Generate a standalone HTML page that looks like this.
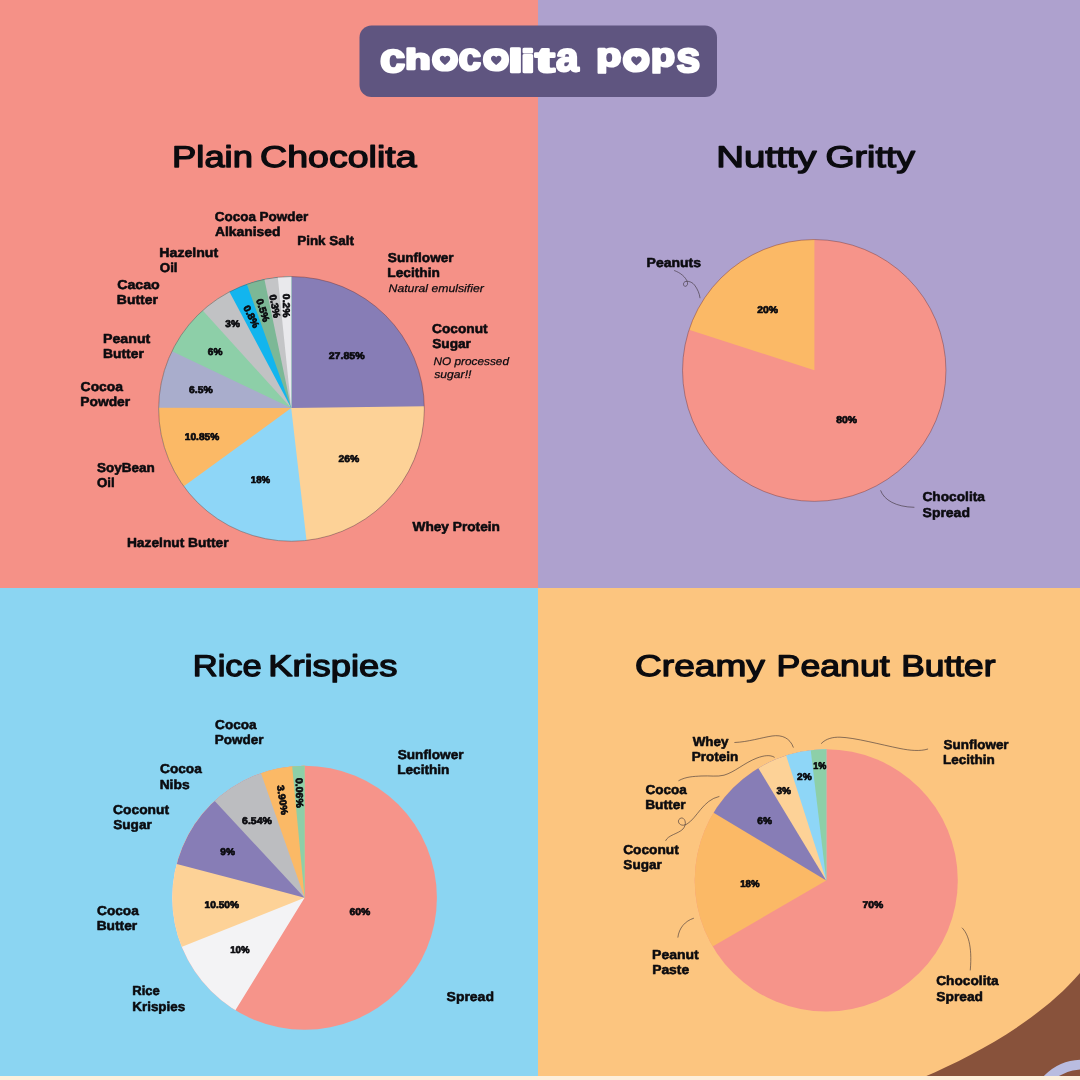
<!DOCTYPE html>
<html lang="en"><head><meta charset="utf-8"><title>Chocolita Pops</title>
<style>
html,body{margin:0;padding:0;background:#F59187;}
body{width:1080px;height:1080px;overflow:hidden;}
svg{display:block;font-family:"Liberation Sans", sans-serif;text-rendering:geometricPrecision;}
text{white-space:pre;}
</style></head><body>
<svg width="1080" height="1080" viewBox="0 0 1080 1080">
<rect x="0" y="0" width="538" height="588" fill="#F59187"/>
<rect x="538" y="0" width="542" height="588" fill="#AEA1CE"/>
<rect x="0" y="588" width="538" height="492" fill="#8BD5F2"/>
<rect x="538" y="588" width="542" height="492" fill="#FCC57F"/>
<path d="M924 1077 C 975 1055, 1040 1020, 1080 973 L1080 1080 L924 1080Z" fill="#88523B"/>
<circle cx="1082.2" cy="1112.9" r="48.3" fill="none" stroke="#B9BCE0" stroke-width="9.7"/>
<rect x="0" y="1076" width="1080" height="4" fill="#FDF0DC"/>
<rect x="359.5" y="25.5" width="357.5" height="71.5" rx="12" fill="#5F5580"/>
<text font-weight="bold" fill="#fff" stroke="#fff" stroke-width="2.4" stroke-linejoin="round"><tspan x="380.13" y="71.60" font-size="41.07" textLength="25.20" lengthAdjust="spacingAndGlyphs">c</tspan><tspan x="405.30" y="69.40" font-size="28.43" textLength="25.38" lengthAdjust="spacingAndGlyphs">h</tspan><tspan x="431.47" y="70.22" font-size="38.51" textLength="27.06" lengthAdjust="spacingAndGlyphs">o</tspan><tspan x="458.51" y="70.22" font-size="38.51" textLength="22.57" lengthAdjust="spacingAndGlyphs">c</tspan><tspan x="482.48" y="70.42" font-size="38.88" textLength="26.95" lengthAdjust="spacingAndGlyphs">o</tspan><tspan x="508.39" y="72.30" font-size="32.43" textLength="14.38" lengthAdjust="spacingAndGlyphs">l</tspan><tspan x="521.14" y="71.80" font-size="31.74" textLength="13.77" lengthAdjust="spacingAndGlyphs">i</tspan><tspan x="535.29" y="71.69" font-size="35.09" textLength="19.42" lengthAdjust="spacingAndGlyphs">t</tspan><tspan x="556.11" y="71.40" font-size="40.70" textLength="22.63" lengthAdjust="spacingAndGlyphs">a</tspan><tspan font-size="20"> </tspan><tspan x="596.29" y="66.13" font-size="32.13" textLength="25.09" lengthAdjust="spacingAndGlyphs">p</tspan><tspan x="622.21" y="71.40" font-size="40.70" textLength="27.98" lengthAdjust="spacingAndGlyphs">o</tspan><tspan x="651.01" y="66.13" font-size="32.13" textLength="24.00" lengthAdjust="spacingAndGlyphs">p</tspan><tspan x="676.18" y="72.18" font-size="43.40" textLength="23.99" lengthAdjust="spacingAndGlyphs">s</tspan></text>
<ellipse cx="445" cy="59.8" rx="6.5" ry="7.5" fill="#fff"/>
<path d="M0,4.2 C-1.5,2.8 -4.65,0.6 -4.65,-1.7 C-4.65,-3.4 -3.4,-4.1 -2.3,-4.1 C-1.2,-4.1 -0.4,-3.4 0,-2.6 C0.4,-3.4 1.2,-4.1 2.3,-4.1 C3.4,-4.1 4.65,-3.4 4.65,-1.7 C4.65,0.6 1.5,2.8 0,4.2Z" transform="translate(445 60.4) scale(1.12)" fill="#5F5580"/>
<ellipse cx="496.2" cy="59.8" rx="6.5" ry="7.5" fill="#fff"/>
<path d="M0,4.2 C-1.5,2.8 -4.65,0.6 -4.65,-1.7 C-4.65,-3.4 -3.4,-4.1 -2.3,-4.1 C-1.2,-4.1 -0.4,-3.4 0,-2.6 C0.4,-3.4 1.2,-4.1 2.3,-4.1 C3.4,-4.1 4.65,-3.4 4.65,-1.7 C4.65,0.6 1.5,2.8 0,4.2Z" transform="translate(496.2 60.4) scale(1.12)" fill="#5F5580"/>
<ellipse cx="636.4" cy="60.2" rx="6.5" ry="7.5" fill="#fff"/>
<path d="M0,4.2 C-1.5,2.8 -4.65,0.6 -4.65,-1.7 C-4.65,-3.4 -3.4,-4.1 -2.3,-4.1 C-1.2,-4.1 -0.4,-3.4 0,-2.6 C0.4,-3.4 1.2,-4.1 2.3,-4.1 C3.4,-4.1 4.65,-3.4 4.65,-1.7 C4.65,0.6 1.5,2.8 0,4.2Z" transform="translate(636.4 60.800000000000004) scale(1.12)" fill="#5F5580"/>
<clipPath id="pc1"><ellipse cx="291.5" cy="408.9" rx="132.85" ry="132.35"/></clipPath>
<g clip-path="url(#pc1)">
<circle cx="291.2" cy="408.0" r="144.85" fill="#877DB6"/>
<path d="M291.20 408.00L436.04 406.23A144.85 144.85 0 1 1 291.20 263.15Z" fill="#FDD297"/>
<path d="M291.20 408.00L307.85 551.89A144.85 144.85 0 1 1 291.20 263.15Z" fill="#8ED6F7"/>
<path d="M291.20 408.00L174.16 493.35A144.85 144.85 0 0 1 291.20 263.15Z" fill="#FBB966"/>
<path d="M291.20 408.00L146.35 407.75A144.85 144.85 0 0 1 291.20 263.15Z" fill="#A9ADCC"/>
<path d="M291.20 408.00L160.46 345.64A144.85 144.85 0 0 1 291.20 263.15Z" fill="#8DCFA8"/>
<path d="M291.20 408.00L193.90 300.69A144.85 144.85 0 0 1 291.20 263.15Z" fill="#C1C2C4"/>
<path d="M291.20 408.00L223.20 280.11A144.85 144.85 0 0 1 291.20 263.15Z" fill="#12B5EE"/>
<path d="M291.20 408.00L242.37 271.63A144.85 144.85 0 0 1 291.20 263.15Z" fill="#7CB896"/>
<path d="M291.20 408.00L261.70 266.19A144.85 144.85 0 0 1 291.20 263.15Z" fill="#C4C5C7"/>
<path d="M291.20 408.00L276.44 263.90A144.85 144.85 0 0 1 291.20 263.15Z" fill="#E9E9EC"/>
</g>
<ellipse cx="291.5" cy="408.9" rx="132.85" ry="132.35" fill="none" stroke="#6a3232" stroke-width="0.5" stroke-opacity="0.85"/>
<clipPath id="pc2"><ellipse cx="814.25" cy="370.45" rx="131.7" ry="130.9"/></clipPath>
<g clip-path="url(#pc2)">
<circle cx="814.4" cy="370.2" r="143.7" fill="#F6948A"/>
<path d="M814.40 370.20L677.66 326.03A143.7 143.7 0 0 1 814.40 226.50Z" fill="#FBB966"/>
</g>
<ellipse cx="814.25" cy="370.45" rx="131.7" ry="130.9" fill="none" stroke="#6a3232" stroke-width="0.5" stroke-opacity="0.85"/>
<clipPath id="pc3"><ellipse cx="304.6" cy="897.7" rx="132.3" ry="132.0"/></clipPath>
<g clip-path="url(#pc3)">
<circle cx="304.6" cy="897.7" r="144.3" fill="#F6948A"/>
<path d="M304.60 897.70L228.99 1020.60A144.3 144.3 0 0 1 304.60 753.40Z" fill="#F3F3F5"/>
<path d="M304.60 897.70L170.62 951.29A144.3 144.3 0 0 1 304.60 753.40Z" fill="#FDD297"/>
<path d="M304.60 897.70L165.09 860.84A144.3 144.3 0 0 1 304.60 753.40Z" fill="#877DB6"/>
<path d="M304.60 897.70L206.37 791.99A144.3 144.3 0 0 1 304.60 753.40Z" fill="#BCBDC0"/>
<path d="M304.60 897.70L256.91 761.51A144.3 144.3 0 0 1 304.60 753.40Z" fill="#FBB966"/>
<path d="M304.60 897.70L291.02 754.04A144.3 144.3 0 0 1 304.60 753.40Z" fill="#8DCFA8"/>
</g>
<clipPath id="pc4"><ellipse cx="826.25" cy="880.4" rx="131.55" ry="131.1"/></clipPath>
<g clip-path="url(#pc4)">
<circle cx="826.25" cy="880.4" r="143.55" fill="#F6948A"/>
<path d="M826.25 880.40L702.18 952.61A143.55 143.55 0 0 1 826.25 736.85Z" fill="#FBB966"/>
<path d="M826.25 880.40L703.20 806.47A143.55 143.55 0 0 1 826.25 736.85Z" fill="#877DB6"/>
<path d="M826.25 880.40L751.89 757.61A143.55 143.55 0 0 1 826.25 736.85Z" fill="#FDD297"/>
<path d="M826.25 880.40L782.37 743.72A143.55 143.55 0 0 1 826.25 736.85Z" fill="#8ED6F7"/>
<path d="M826.25 880.40L809.25 737.86A143.55 143.55 0 0 1 826.25 736.85Z" fill="#8DCFA8"/>
</g>
<text y="166.8" font-size="30" font-weight="normal" fill="#0b0b0f" stroke="#0b0b0f" stroke-width="1.3" stroke-linejoin="round"><tspan x="172.07" textLength="80.84" lengthAdjust="spacingAndGlyphs">Plain</tspan> <tspan x="260.04" textLength="156.51" lengthAdjust="spacingAndGlyphs">Chocolita</tspan></text>
<text y="166.7" font-size="30" font-weight="normal" fill="#0b0b0f" stroke="#0b0b0f" stroke-width="1.3" stroke-linejoin="round"><tspan x="716.20" textLength="100.33" lengthAdjust="spacingAndGlyphs">Nuttty</tspan> <tspan x="825.47" textLength="89.46" lengthAdjust="spacingAndGlyphs">Gritty</tspan></text>
<text y="675.5" font-size="30" font-weight="normal" fill="#0b0b0f" stroke="#0b0b0f" stroke-width="1.3" stroke-linejoin="round"><tspan x="192.72" textLength="69.07" lengthAdjust="spacingAndGlyphs">Rice</tspan> <tspan x="268.17" textLength="129.30" lengthAdjust="spacingAndGlyphs">Krispies</tspan></text>
<text y="676.1" font-size="30" font-weight="normal" fill="#0b0b0f" stroke="#0b0b0f" stroke-width="1.3" stroke-linejoin="round"><tspan x="635.07" textLength="129.86" lengthAdjust="spacingAndGlyphs">Creamy</tspan> <tspan x="776.62" textLength="113.09" lengthAdjust="spacingAndGlyphs">Peanut</tspan> <tspan x="901.25" textLength="94.29" lengthAdjust="spacingAndGlyphs">Butter</tspan></text>
<text x="214.72" y="220.7" font-size="13" font-weight="bold" font-style="normal" fill="#0b0b0f" stroke="#0b0b0f" stroke-width="0.55" stroke-linejoin="round" textLength="93.51" lengthAdjust="spacingAndGlyphs">Cocoa Powder</text>
<text x="214.93" y="235.8" font-size="13" font-weight="bold" font-style="normal" fill="#0b0b0f" stroke="#0b0b0f" stroke-width="0.55" stroke-linejoin="round" textLength="65.51" lengthAdjust="spacingAndGlyphs">Alkanised</text>
<text x="297.28" y="245.4" font-size="13" font-weight="bold" font-style="normal" fill="#0b0b0f" stroke="#0b0b0f" stroke-width="0.55" stroke-linejoin="round" textLength="56.61" lengthAdjust="spacingAndGlyphs">Pink Salt</text>
<text x="159.33" y="257.0" font-size="13" font-weight="bold" font-style="normal" fill="#0b0b0f" stroke="#0b0b0f" stroke-width="0.55" stroke-linejoin="round" textLength="58.87" lengthAdjust="spacingAndGlyphs">Hazelnut</text>
<text x="159.73" y="271.8" font-size="13" font-weight="bold" font-style="normal" fill="#0b0b0f" stroke="#0b0b0f" stroke-width="0.55" stroke-linejoin="round" textLength="17.85" lengthAdjust="spacingAndGlyphs">Oil</text>
<text x="117.19" y="289.4" font-size="13" font-weight="bold" font-style="normal" fill="#0b0b0f" stroke="#0b0b0f" stroke-width="0.55" stroke-linejoin="round" textLength="42.59" lengthAdjust="spacingAndGlyphs">Cacao</text>
<text x="116.84" y="304.2" font-size="13" font-weight="bold" font-style="normal" fill="#0b0b0f" stroke="#0b0b0f" stroke-width="0.55" stroke-linejoin="round" textLength="41.09" lengthAdjust="spacingAndGlyphs">Butter</text>
<text x="103.03" y="342.8" font-size="13" font-weight="bold" font-style="normal" fill="#0b0b0f" stroke="#0b0b0f" stroke-width="0.55" stroke-linejoin="round" textLength="47.27" lengthAdjust="spacingAndGlyphs">Peanut</text>
<text x="103.05" y="357.9" font-size="13" font-weight="bold" font-style="normal" fill="#0b0b0f" stroke="#0b0b0f" stroke-width="0.55" stroke-linejoin="round" textLength="40.79" lengthAdjust="spacingAndGlyphs">Butter</text>
<text x="80.61" y="391.0" font-size="13" font-weight="bold" font-style="normal" fill="#0b0b0f" stroke="#0b0b0f" stroke-width="0.55" stroke-linejoin="round" textLength="42.43" lengthAdjust="spacingAndGlyphs">Cocoa</text>
<text x="80.25" y="406.1" font-size="13" font-weight="bold" font-style="normal" fill="#0b0b0f" stroke="#0b0b0f" stroke-width="0.55" stroke-linejoin="round" textLength="49.88" lengthAdjust="spacingAndGlyphs">Powder</text>
<text x="97.09" y="471.7" font-size="13" font-weight="bold" font-style="normal" fill="#0b0b0f" stroke="#0b0b0f" stroke-width="0.55" stroke-linejoin="round" textLength="57.78" lengthAdjust="spacingAndGlyphs">SoyBean</text>
<text x="96.93" y="487.0" font-size="13" font-weight="bold" font-style="normal" fill="#0b0b0f" stroke="#0b0b0f" stroke-width="0.55" stroke-linejoin="round" textLength="17.74" lengthAdjust="spacingAndGlyphs">Oil</text>
<text x="126.95" y="547.1" font-size="13" font-weight="bold" font-style="normal" fill="#0b0b0f" stroke="#0b0b0f" stroke-width="0.55" stroke-linejoin="round" textLength="101.68" lengthAdjust="spacingAndGlyphs">Hazelnut Butter</text>
<text x="387.88" y="262.2" font-size="13" font-weight="bold" font-style="normal" fill="#0b0b0f" stroke="#0b0b0f" stroke-width="0.55" stroke-linejoin="round" textLength="65.75" lengthAdjust="spacingAndGlyphs">Sunflower</text>
<text x="387.36" y="277.3" font-size="13" font-weight="bold" font-style="normal" fill="#0b0b0f" stroke="#0b0b0f" stroke-width="0.55" stroke-linejoin="round" textLength="52.52" lengthAdjust="spacingAndGlyphs">Lecithin</text>
<text x="432.01" y="333.3" font-size="13" font-weight="bold" font-style="normal" fill="#0b0b0f" stroke="#0b0b0f" stroke-width="0.55" stroke-linejoin="round" textLength="55.58" lengthAdjust="spacingAndGlyphs">Coconut</text>
<text x="432.18" y="347.5" font-size="13" font-weight="bold" font-style="normal" fill="#0b0b0f" stroke="#0b0b0f" stroke-width="0.55" stroke-linejoin="round" textLength="38.75" lengthAdjust="spacingAndGlyphs">Sugar</text>
<text x="412.46" y="530.7" font-size="13" font-weight="bold" font-style="normal" fill="#0b0b0f" stroke="#0b0b0f" stroke-width="0.55" stroke-linejoin="round" textLength="87.51" lengthAdjust="spacingAndGlyphs">Whey Protein</text>
<text x="646.64" y="266.5" font-size="13" font-weight="bold" font-style="normal" fill="#0b0b0f" stroke="#0b0b0f" stroke-width="0.55" stroke-linejoin="round" textLength="54.36" lengthAdjust="spacingAndGlyphs">Peanuts</text>
<text x="922.41" y="501.0" font-size="13" font-weight="bold" font-style="normal" fill="#0b0b0f" stroke="#0b0b0f" stroke-width="0.55" stroke-linejoin="round" textLength="62.53" lengthAdjust="spacingAndGlyphs">Chocolita</text>
<text x="922.57" y="516.7" font-size="13" font-weight="bold" font-style="normal" fill="#0b0b0f" stroke="#0b0b0f" stroke-width="0.55" stroke-linejoin="round" textLength="47.37" lengthAdjust="spacingAndGlyphs">Spread</text>
<text x="215.12" y="729.0" font-size="13" font-weight="bold" font-style="normal" fill="#0b0b0f" stroke="#0b0b0f" stroke-width="0.55" stroke-linejoin="round" textLength="41.52" lengthAdjust="spacingAndGlyphs">Cocoa</text>
<text x="214.77" y="744.1" font-size="13" font-weight="bold" font-style="normal" fill="#0b0b0f" stroke="#0b0b0f" stroke-width="0.55" stroke-linejoin="round" textLength="48.76" lengthAdjust="spacingAndGlyphs">Powder</text>
<text x="160.01" y="773.1" font-size="13" font-weight="bold" font-style="normal" fill="#0b0b0f" stroke="#0b0b0f" stroke-width="0.55" stroke-linejoin="round" textLength="41.82" lengthAdjust="spacingAndGlyphs">Cocoa</text>
<text x="159.65" y="788.5" font-size="13" font-weight="bold" font-style="normal" fill="#0b0b0f" stroke="#0b0b0f" stroke-width="0.55" stroke-linejoin="round" textLength="29.94" lengthAdjust="spacingAndGlyphs">Nibs</text>
<text x="113.11" y="813.7" font-size="13" font-weight="bold" font-style="normal" fill="#0b0b0f" stroke="#0b0b0f" stroke-width="0.55" stroke-linejoin="round" textLength="55.88" lengthAdjust="spacingAndGlyphs">Coconut</text>
<text x="113.28" y="828.8" font-size="13" font-weight="bold" font-style="normal" fill="#0b0b0f" stroke="#0b0b0f" stroke-width="0.55" stroke-linejoin="round" textLength="38.45" lengthAdjust="spacingAndGlyphs">Sugar</text>
<text x="97.01" y="915.1" font-size="13" font-weight="bold" font-style="normal" fill="#0b0b0f" stroke="#0b0b0f" stroke-width="0.55" stroke-linejoin="round" textLength="41.82" lengthAdjust="spacingAndGlyphs">Cocoa</text>
<text x="96.65" y="930.2" font-size="13" font-weight="bold" font-style="normal" fill="#0b0b0f" stroke="#0b0b0f" stroke-width="0.55" stroke-linejoin="round" textLength="40.58" lengthAdjust="spacingAndGlyphs">Butter</text>
<text x="132.30" y="995.4" font-size="13" font-weight="bold" font-style="normal" fill="#0b0b0f" stroke="#0b0b0f" stroke-width="0.55" stroke-linejoin="round" textLength="27.57" lengthAdjust="spacingAndGlyphs">Rice</text>
<text x="132.28" y="1010.9" font-size="13" font-weight="bold" font-style="normal" fill="#0b0b0f" stroke="#0b0b0f" stroke-width="0.55" stroke-linejoin="round" textLength="52.90" lengthAdjust="spacingAndGlyphs">Krispies</text>
<text x="397.68" y="758.7" font-size="13" font-weight="bold" font-style="normal" fill="#0b0b0f" stroke="#0b0b0f" stroke-width="0.55" stroke-linejoin="round" textLength="65.85" lengthAdjust="spacingAndGlyphs">Sunflower</text>
<text x="397.16" y="773.8" font-size="13" font-weight="bold" font-style="normal" fill="#0b0b0f" stroke="#0b0b0f" stroke-width="0.55" stroke-linejoin="round" textLength="52.31" lengthAdjust="spacingAndGlyphs">Lecithin</text>
<text x="446.57" y="1000.6" font-size="13" font-weight="bold" font-style="normal" fill="#0b0b0f" stroke="#0b0b0f" stroke-width="0.55" stroke-linejoin="round" textLength="47.37" lengthAdjust="spacingAndGlyphs">Spread</text>
<text x="692.66" y="745.9" font-size="13" font-weight="bold" font-style="normal" fill="#0b0b0f" stroke="#0b0b0f" stroke-width="0.55" stroke-linejoin="round" textLength="35.84" lengthAdjust="spacingAndGlyphs">Whey</text>
<text x="691.77" y="761.0" font-size="13" font-weight="bold" font-style="normal" fill="#0b0b0f" stroke="#0b0b0f" stroke-width="0.55" stroke-linejoin="round" textLength="46.59" lengthAdjust="spacingAndGlyphs">Protein</text>
<text x="645.52" y="793.6" font-size="13" font-weight="bold" font-style="normal" fill="#0b0b0f" stroke="#0b0b0f" stroke-width="0.55" stroke-linejoin="round" textLength="41.32" lengthAdjust="spacingAndGlyphs">Cocoa</text>
<text x="645.16" y="808.6" font-size="13" font-weight="bold" font-style="normal" fill="#0b0b0f" stroke="#0b0b0f" stroke-width="0.55" stroke-linejoin="round" textLength="40.48" lengthAdjust="spacingAndGlyphs">Butter</text>
<text x="623.21" y="854.0" font-size="13" font-weight="bold" font-style="normal" fill="#0b0b0f" stroke="#0b0b0f" stroke-width="0.55" stroke-linejoin="round" textLength="55.58" lengthAdjust="spacingAndGlyphs">Coconut</text>
<text x="623.39" y="869.0" font-size="13" font-weight="bold" font-style="normal" fill="#0b0b0f" stroke="#0b0b0f" stroke-width="0.55" stroke-linejoin="round" textLength="38.34" lengthAdjust="spacingAndGlyphs">Sugar</text>
<text x="652.14" y="958.5" font-size="13" font-weight="bold" font-style="normal" fill="#0b0b0f" stroke="#0b0b0f" stroke-width="0.55" stroke-linejoin="round" textLength="46.66" lengthAdjust="spacingAndGlyphs">Peanut</text>
<text x="652.15" y="973.5" font-size="13" font-weight="bold" font-style="normal" fill="#0b0b0f" stroke="#0b0b0f" stroke-width="0.55" stroke-linejoin="round" textLength="37.05" lengthAdjust="spacingAndGlyphs">Paste</text>
<text x="943.59" y="749.3" font-size="13" font-weight="bold" font-style="normal" fill="#0b0b0f" stroke="#0b0b0f" stroke-width="0.55" stroke-linejoin="round" textLength="65.04" lengthAdjust="spacingAndGlyphs">Sunflower</text>
<text x="943.07" y="764.2" font-size="13" font-weight="bold" font-style="normal" fill="#0b0b0f" stroke="#0b0b0f" stroke-width="0.55" stroke-linejoin="round" textLength="51.79" lengthAdjust="spacingAndGlyphs">Lecithin</text>
<text x="936.21" y="985.4" font-size="13" font-weight="bold" font-style="normal" fill="#0b0b0f" stroke="#0b0b0f" stroke-width="0.55" stroke-linejoin="round" textLength="62.43" lengthAdjust="spacingAndGlyphs">Chocolita</text>
<text x="936.38" y="1000.6" font-size="13" font-weight="bold" font-style="normal" fill="#0b0b0f" stroke="#0b0b0f" stroke-width="0.55" stroke-linejoin="round" textLength="46.65" lengthAdjust="spacingAndGlyphs">Spread</text>
<text x="388.55" y="291.6" font-size="11" font-weight="normal" font-style="italic" fill="#0b0b0f" stroke="#0b0b0f" stroke-width="0.25" stroke-linejoin="round" textLength="95.31" lengthAdjust="spacingAndGlyphs">Natural emulsifier</text>
<text x="433.56" y="365.2" font-size="11" font-weight="normal" font-style="italic" fill="#0b0b0f" stroke="#0b0b0f" stroke-width="0.25" stroke-linejoin="round" textLength="75.40" lengthAdjust="spacingAndGlyphs">NO processed</text>
<text x="434.30" y="377.8" font-size="11" font-weight="normal" font-style="italic" fill="#0b0b0f" stroke="#0b0b0f" stroke-width="0.25" stroke-linejoin="round" textLength="37.10" lengthAdjust="spacingAndGlyphs">sugar!!</text>
<text x="328.73" y="359.4" font-size="9.8" font-weight="bold" font-style="normal" fill="#0b0b0f" stroke="#0b0b0f" stroke-width="0.7" stroke-linejoin="round" textLength="35.85" lengthAdjust="spacingAndGlyphs">27.85%</text>
<text x="338.49" y="461.7" font-size="9.8" font-weight="bold" font-style="normal" fill="#0b0b0f" stroke="#0b0b0f" stroke-width="0.7" stroke-linejoin="round" textLength="20.73" lengthAdjust="spacingAndGlyphs">26%</text>
<text x="250.79" y="483.4" font-size="9.8" font-weight="bold" font-style="normal" fill="#0b0b0f" stroke="#0b0b0f" stroke-width="0.7" stroke-linejoin="round" textLength="19.26" lengthAdjust="spacingAndGlyphs">18%</text>
<text x="184.81" y="439.8" font-size="9.8" font-weight="bold" font-style="normal" fill="#0b0b0f" stroke="#0b0b0f" stroke-width="0.7" stroke-linejoin="round" textLength="34.41" lengthAdjust="spacingAndGlyphs">10.85%</text>
<text x="189.02" y="392.9" font-size="9.8" font-weight="bold" font-style="normal" fill="#0b0b0f" stroke="#0b0b0f" stroke-width="0.7" stroke-linejoin="round" textLength="23.65" lengthAdjust="spacingAndGlyphs">6.5%</text>
<text x="207.83" y="355.3" font-size="9.8" font-weight="bold" font-style="normal" fill="#0b0b0f" stroke="#0b0b0f" stroke-width="0.7" stroke-linejoin="round" textLength="14.64" lengthAdjust="spacingAndGlyphs">6%</text>
<text x="225.37" y="327.3" font-size="9.8" font-weight="bold" font-style="normal" fill="#0b0b0f" stroke="#0b0b0f" stroke-width="0.7" stroke-linejoin="round" textLength="14.49" lengthAdjust="spacingAndGlyphs">3%</text>
<text x="757.29" y="312.7" font-size="9.8" font-weight="bold" font-style="normal" fill="#0b0b0f" stroke="#0b0b0f" stroke-width="0.7" stroke-linejoin="round" textLength="20.73" lengthAdjust="spacingAndGlyphs">20%</text>
<text x="836.32" y="422.7" font-size="9.8" font-weight="bold" font-style="normal" fill="#0b0b0f" stroke="#0b0b0f" stroke-width="0.7" stroke-linejoin="round" textLength="20.70" lengthAdjust="spacingAndGlyphs">80%</text>
<text x="242.07" y="824.3" font-size="9.8" font-weight="bold" font-style="normal" fill="#0b0b0f" stroke="#0b0b0f" stroke-width="0.7" stroke-linejoin="round" textLength="29.76" lengthAdjust="spacingAndGlyphs">6.54%</text>
<text x="220.35" y="854.9" font-size="9.8" font-weight="bold" font-style="normal" fill="#0b0b0f" stroke="#0b0b0f" stroke-width="0.7" stroke-linejoin="round" textLength="14.62" lengthAdjust="spacingAndGlyphs">9%</text>
<text x="204.61" y="907.8" font-size="9.8" font-weight="bold" font-style="normal" fill="#0b0b0f" stroke="#0b0b0f" stroke-width="0.7" stroke-linejoin="round" textLength="34.41" lengthAdjust="spacingAndGlyphs">10.50%</text>
<text x="230.19" y="953.4" font-size="9.8" font-weight="bold" font-style="normal" fill="#0b0b0f" stroke="#0b0b0f" stroke-width="0.7" stroke-linejoin="round" textLength="19.26" lengthAdjust="spacingAndGlyphs">10%</text>
<text x="349.57" y="915.0" font-size="9.8" font-weight="bold" font-style="normal" fill="#0b0b0f" stroke="#0b0b0f" stroke-width="0.7" stroke-linejoin="round" textLength="20.75" lengthAdjust="spacingAndGlyphs">60%</text>
<text x="813.28" y="768.8" font-size="9.8" font-weight="bold" font-style="normal" fill="#0b0b0f" stroke="#0b0b0f" stroke-width="0.7" stroke-linejoin="round" textLength="13.11" lengthAdjust="spacingAndGlyphs">1%</text>
<text x="797.05" y="780.4" font-size="9.8" font-weight="bold" font-style="normal" fill="#0b0b0f" stroke="#0b0b0f" stroke-width="0.7" stroke-linejoin="round" textLength="14.62" lengthAdjust="spacingAndGlyphs">2%</text>
<text x="776.47" y="794.0" font-size="9.8" font-weight="bold" font-style="normal" fill="#0b0b0f" stroke="#0b0b0f" stroke-width="0.7" stroke-linejoin="round" textLength="14.49" lengthAdjust="spacingAndGlyphs">3%</text>
<text x="757.33" y="824.0" font-size="9.8" font-weight="bold" font-style="normal" fill="#0b0b0f" stroke="#0b0b0f" stroke-width="0.7" stroke-linejoin="round" textLength="14.64" lengthAdjust="spacingAndGlyphs">6%</text>
<text x="740.19" y="886.7" font-size="9.8" font-weight="bold" font-style="normal" fill="#0b0b0f" stroke="#0b0b0f" stroke-width="0.7" stroke-linejoin="round" textLength="19.26" lengthAdjust="spacingAndGlyphs">18%</text>
<text x="862.50" y="907.7" font-size="9.8" font-weight="bold" font-style="normal" fill="#0b0b0f" stroke="#0b0b0f" stroke-width="0.7" stroke-linejoin="round" textLength="20.82" lengthAdjust="spacingAndGlyphs">70%</text>
<text x="274.89" y="309.2" font-size="9.8" font-weight="bold" font-style="normal" fill="#0b0b0f" stroke="#0b0b0f" stroke-width="0.7" stroke-linejoin="round" textLength="23.68" lengthAdjust="spacingAndGlyphs" transform="rotate(90 286.8 305.8)">0.2%</text>
<text x="262.99" y="309.6" font-size="9.8" font-weight="bold" font-style="normal" fill="#0b0b0f" stroke="#0b0b0f" stroke-width="0.7" stroke-linejoin="round" textLength="23.68" lengthAdjust="spacingAndGlyphs" transform="rotate(79 274.9 306.2)">0.3%</text>
<text x="251.09" y="313.8" font-size="9.8" font-weight="bold" font-style="normal" fill="#0b0b0f" stroke="#0b0b0f" stroke-width="0.7" stroke-linejoin="round" textLength="23.68" lengthAdjust="spacingAndGlyphs" transform="rotate(72 263.0 310.4)">0.5%</text>
<text x="239.59" y="320.0" font-size="9.8" font-weight="bold" font-style="normal" fill="#0b0b0f" stroke="#0b0b0f" stroke-width="0.7" stroke-linejoin="round" textLength="23.68" lengthAdjust="spacingAndGlyphs" transform="rotate(63 251.5 316.6)">0.8%</text>
<text x="267.81" y="803.3" font-size="9.8" font-weight="bold" font-style="normal" fill="#0b0b0f" stroke="#0b0b0f" stroke-width="0.7" stroke-linejoin="round" textLength="29.62" lengthAdjust="spacingAndGlyphs" transform="rotate(81 282.6 799.9)">3.90%</text>
<text x="284.53" y="796.3" font-size="9.8" font-weight="bold" font-style="normal" fill="#0b0b0f" stroke="#0b0b0f" stroke-width="0.7" stroke-linejoin="round" textLength="29.79" lengthAdjust="spacingAndGlyphs" transform="rotate(88.5 299.5 792.9)">0.06%</text>
<path d="M674.5 270.6 C680 272.5,686 277,687.5 282.5 C688.5 286.5,683.5 288,683.5 284 C683.5 280,691 280.5,694.5 285 C697.5 289,699.5 293.5,700 297.8" fill="none" stroke="#3a3036" stroke-width="0.6" stroke-linecap="round"/>
<path d="M880.7 490.7 C884 500,896 507,914 507.3" fill="none" stroke="#3a3036" stroke-width="0.6" stroke-linecap="round"/>
<path d="M734.8 742.5 C748 742,762 737.5,772 736 C782 734.5,790 738,793.3 747.2" fill="none" stroke="#3a3036" stroke-width="0.6" stroke-linecap="round"/>
<path d="M678.8 780.6 C686 776.5,694 776.5,701 776 C710 775.5,717 777,724 775.2 C735 772,744 763,757 758 C764 755.5,770 754.5,774.3 757.2" fill="none" stroke="#3a3036" stroke-width="0.6" stroke-linecap="round"/>
<path d="M665.7 840.5 C668 835,678 834,683 829 C688 823,684 816,680 818.5 C676 821,680 828,687 824 C697 818,703 800,719 796.5" fill="none" stroke="#3a3036" stroke-width="0.6" stroke-linecap="round"/>
<path d="M677.9 937.2 C679 928,685 921,693.5 918.3" fill="none" stroke="#3a3036" stroke-width="0.6" stroke-linecap="round"/>
<path d="M821.4 743.4 C826 738.5,833 737,840 737.2 C855 737.6,880 744.5,900 748.5 C910 750.5,920 751.5,927.7 749.1" fill="none" stroke="#3a3036" stroke-width="0.6" stroke-linecap="round"/>
<path d="M962.2 928 C967.5 933,972.5 945,970.3 970" fill="none" stroke="#3a3036" stroke-width="0.6" stroke-linecap="round"/>
</svg>
</body></html>
